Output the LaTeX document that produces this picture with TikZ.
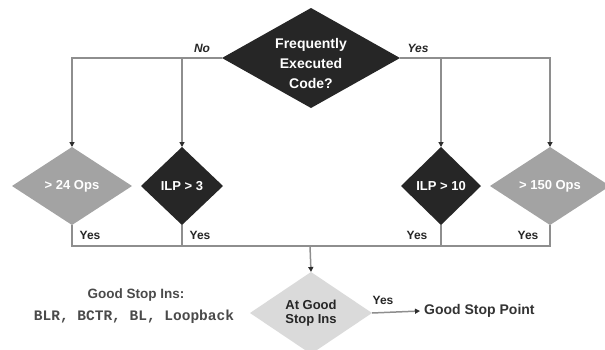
\documentclass[tikz,border=0pt]{standalone}
\usepackage{fontspec}
\setmainfont{Liberation Sans}
\newfontfamily\codefont{Liberation Mono}
\usetikzlibrary{shapes.geometric,arrows.meta}
\definecolor{linegray}{HTML}{8E8E8E}
\definecolor{tipdark}{HTML}{2E2E2E}
\definecolor{darkfill}{HTML}{262626}
\definecolor{midfill}{HTML}{A3A3A3}
\definecolor{lightfill}{HTML}{DADADA}
\definecolor{textgray}{HTML}{4A4A4A}
\tikzset{
  line/.style={draw=linegray, line width=1.5pt},
  arr/.style={line, -{Triangle[length=5pt,width=5pt,color=tipdark]}},
  dia/.style={diamond, inner sep=0pt, outer sep=0pt, align=center,
    font=\bfseries\fontsize{13}{15}\selectfont},
  darkdia/.style={dia, fill=darkfill, text=white},
  middia/.style={dia, fill=midfill, text=white},
  lbl/.style={font=\bfseries\itshape\fontsize{12}{14}\selectfont, text=black!85, inner sep=0pt},
  ylbl/.style={font=\bfseries\fontsize{12}{14}\selectfont, text=black!85, inner sep=0pt},
  note/.style={font=\bfseries\fontsize{13.5}{15}\selectfont, text=textgray, inner sep=0pt},
}
\begin{document}
\begin{tikzpicture}[x=1pt, y=-1pt]
\useasboundingbox (0,0) rectangle (605,349);

% decision diamonds
\node[darkdia, minimum width=178pt, minimum height=100pt] (freq) at (311,58) {};
\node[align=center, text=white, inner sep=0pt,
      font=\bfseries\fontsize{14}{20}\selectfont] (freqtext)
      at ([yshift=-5pt]freq.center) {Frequently\\Executed\\Code?};
\node[middia, minimum width=120pt, minimum height=78pt] (ops24) at (72,186) {> 24 Ops};
\node[darkdia, minimum width=82pt, minimum height=78pt] (ilp3) at (182,186) {ILP > 3};
\node[darkdia, minimum width=80pt, minimum height=78pt] (ilp10) at (441,186) {ILP > 10};
\node[middia, minimum width=120pt, minimum height=78pt] (ops150) at (550,186) {> 150 Ops};
\node[dia, fill=lightfill, text=black!85, minimum width=122pt, minimum height=82pt,
      font=\bfseries\fontsize{13}{14}\selectfont] (goodq) at (311,313) {At Good\\Stop Ins};

% side notes
\node[note] (insnhead) at (136,295) {Good Stop Ins:};
\node[note, font=\codefont\bfseries\fontsize{14.5}{16}\selectfont] (insnlist) at (134,317)
      {BLR, BCTR, BL, Loopback};
\node[note, anchor=west, inner xsep=4pt, text=black!80,
      font=\bfseries\fontsize{14}{16}\selectfont] (stoppt) at (420,311) {Good Stop Point};

% branches from the top decision
\draw[arr] (freq.west) -| (ops24.north);
\draw[arr] (freq.west) -| (ilp3.north);
\draw[arr] (freq.east) -| (ilp10.north);
\draw[arr] (freq.east) -| (ops150.north);
\node[lbl] (nolbl) at (202,48) {No};
\node[lbl] (yeslbl) at (418,48) {Yes};

% merging the Yes exits
\coordinate (join) at (310,246);
\draw[line] (ops24.south) |- (join);
\draw[line] (ilp3.south) |- (join);
\draw[line] (ilp10.south) |- (join);
\draw[line] (ops150.south) |- (join);
\node[ylbl] (y1) at (90,235) {Yes};
\node[ylbl] (y2) at (200,235) {Yes};
\node[ylbl] (y3) at (417,235) {Yes};
\node[ylbl] (y4) at (528,235) {Yes};
\draw[arr] (join) -- (goodq.north);

% final outcome
\draw[arr] (goodq.east) -- (stoppt.west);
\node[ylbl] (y5) at (383,300) {Yes};
\end{tikzpicture}
\end{document}
